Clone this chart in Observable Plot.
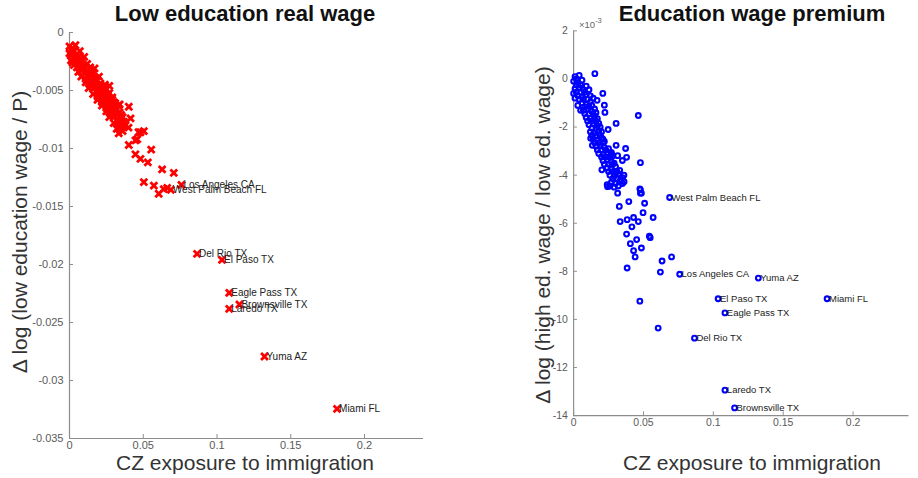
<!DOCTYPE html>
<html><head><meta charset="utf-8">
<script src="https://cdn.jsdelivr.net/npm/d3@7"></script>
<script src="https://cdn.jsdelivr.net/npm/@observablehq/plot@0.6"></script>
<style>
html,body{margin:0;padding:0;width:918px;height:478px;overflow:hidden;background:#fff;font-family:"Liberation Sans",Arial,Helvetica,sans-serif;}
#left,#right,#overlay{position:absolute;top:0;}
#left{left:0}
#right{left:500px}
#overlay{left:0;pointer-events:none}
</style></head><body>
<div id="left"></div><div id="right"></div>
<svg id="overlay" width="918" height="478"></svg>
<script>
// ---- tick labels ----
const xTicks = [0, 0.05, 0.1, 0.15, 0.2];
const lowYTicks = [0, -0.005, -0.01, -0.015, -0.02, -0.025, -0.03, -0.035];
const premYTicks = [2, 0, -2, -4, -6, -8, -10, -12, -14]; // x 10^-3

// ---- labelled commuting zones ----
const cityNames = ["Los Angeles CA","West Palm Beach FL","Del Rio TX","El Paso TX","Eagle Pass TX","Brownsville TX","Laredo TX","Yuma AZ","Miami FL"];
const cityX = [0.0759, 0.0687, 0.0865, 0.1034, 0.1083, 0.1152, 0.1083, 0.1322, 0.1814];
const cityLowY = [-0.01313, -0.01356, -0.01908, -0.0196, -0.02244, -0.02345, -0.02382, -0.02793, -0.03244];
const cityPremY = [-8.12, -4.93, -10.78, -9.14, -9.73, -13.68, -12.94, -8.28, -9.14];

// ---- low education real wage: other CZs [exposure, change] ----
const lowBand = [
[0.000,-0.0012],[0.002,-0.0014],[0.004,-0.0011],[0.001,-0.0015],
[0.000,-0.0018],[0.002,-0.0017],[0.005,-0.0019],[0.007,-0.0016],
[0.001,-0.0024],[0.004,-0.0022],[0.007,-0.0023],[0.010,-0.0021],
[0.003,-0.0028],[0.006,-0.0026],[0.009,-0.0029],[0.012,-0.0027],[0.014,-0.0030],
[0.006,-0.0034],[0.009,-0.0032],[0.012,-0.0033],[0.015,-0.0035],[0.017,-0.0031],
[0.008,-0.0038],[0.011,-0.0040],[0.014,-0.0037],[0.017,-0.0039],[0.020,-0.0038],
[0.011,-0.0043],[0.014,-0.0045],[0.018,-0.0042],[0.021,-0.0044],[0.024,-0.0045],
[0.013,-0.0048],[0.017,-0.0047],[0.020,-0.0050],[0.023,-0.0048],[0.027,-0.0046],
[0.016,-0.0053],[0.019,-0.0055],[0.022,-0.0052],[0.026,-0.0054],[0.029,-0.0056],
[0.019,-0.0058],[0.022,-0.0060],[0.025,-0.0057],[0.028,-0.0059],[0.031,-0.0061],
[0.022,-0.0063],[0.025,-0.0065],[0.028,-0.0062],[0.031,-0.0064],[0.034,-0.0062],
[0.025,-0.0068],[0.028,-0.0070],[0.031,-0.0067],[0.034,-0.0069],
[0.027,-0.0073],[0.030,-0.0072],[0.033,-0.0075],[0.036,-0.0073],
[0.030,-0.0078],[0.034,-0.0080],[0.037,-0.0077],
[0.032,-0.0083],[0.036,-0.0085],[0.040,-0.0082],
[0.001,-0.0020],[0.003,-0.0016],[0.006,-0.0021],[0.008,-0.0025],[0.002,-0.0026],
[0.005,-0.0030],[0.008,-0.0031],[0.011,-0.0030],[0.010,-0.0035],[0.013,-0.0036],
[0.016,-0.0036],[0.019,-0.0041],[0.012,-0.0041],[0.015,-0.0042],[0.016,-0.0045],
[0.019,-0.0046],[0.022,-0.0047],[0.025,-0.0049],[0.018,-0.0051],[0.021,-0.0050],
[0.024,-0.0051],[0.027,-0.0052],[0.020,-0.0056],[0.023,-0.0056],[0.026,-0.0056],
[0.029,-0.0058],[0.024,-0.0061],[0.027,-0.0061],[0.030,-0.0060],[0.033,-0.0063],
[0.026,-0.0066],[0.029,-0.0066],[0.032,-0.0066],[0.029,-0.0071],[0.032,-0.0070],
[0.035,-0.0071],[0.032,-0.0076],[0.035,-0.0076],[0.034,-0.0082],[0.038,-0.0080]
];
const lowScatter = [
[0.0402,-0.0064],[0.0414,-0.0074],[0.0368,-0.0080],[0.0334,-0.0087],[0.0504,-0.0085],
[0.0481,-0.0086],[0.0459,-0.0092],[0.0402,-0.0097],[0.0554,-0.0101],[0.0447,-0.0105],
[0.0481,-0.0109],[0.0531,-0.0112],[0.0628,-0.0118],[0.0707,-0.0121],[0.0504,-0.0129],
[0.0572,-0.0132],[0.0605,-0.0139],[0.0639,-0.0135],[0.0662,-0.0134],[0.0447,-0.0093],
[0.0468,-0.0086]
];

// ---- education wage premium (x 10^-3): other CZs ----
const premBand = [
[0.001,0.1],[0.004,0.15],[0.002,0.0],
[0.000,-0.1],[0.003,-0.15],[0.006,-0.05],
[0.001,-0.4],[0.004,-0.35],[0.007,-0.45],
[0.003,-0.7],[0.006,-0.75],[0.009,-0.65],
[0.006,-1.0],[0.009,-1.05],[0.012,-0.95],
[0.007,-1.3],[0.010,-1.25],[0.013,-1.35],
[0.009,-1.6],[0.012,-1.65],[0.015,-1.55],
[0.011,-1.9],[0.014,-1.85],[0.017,-1.95],
[0.012,-2.2],[0.015,-2.25],[0.018,-2.15],
[0.014,-2.5],[0.017,-2.55],[0.020,-2.45],
[0.016,-2.8],[0.019,-2.75],[0.022,-2.85],
[0.018,-3.1],[0.021,-3.15],[0.024,-3.05],
[0.021,-3.4],[0.024,-3.35],[0.027,-3.45],
[0.024,-3.7],[0.027,-3.75],[0.030,-3.65],
[0.026,-4.0],[0.029,-4.05],[0.032,-3.95],[0.035,-4.1],
[0.024,-4.4],[0.027,-4.3],[0.030,-4.35],[0.033,-4.25],
[0.002,-0.25],[0.005,-0.25],[0.002,-0.55],[0.005,-0.55],[0.008,-0.55],
[0.004,-0.85],[0.007,-0.85],[0.010,-0.85],[0.008,-1.15],[0.011,-1.15],
[0.008,-1.45],[0.011,-1.45],[0.014,-1.45],[0.010,-1.75],[0.013,-1.75],
[0.016,-1.75],[0.013,-2.05],[0.016,-2.05],[0.013,-2.35],[0.016,-2.35],
[0.019,-2.35],[0.015,-2.65],[0.018,-2.65],[0.021,-2.65],[0.017,-2.95],
[0.020,-2.95],[0.023,-2.95],[0.020,-3.25],[0.023,-3.25],[0.026,-3.25],
[0.022,-3.55],[0.025,-3.55],[0.028,-3.55],[0.025,-3.85],[0.028,-3.85],
[0.031,-3.85],[0.028,-4.15],[0.031,-4.15],[0.034,-4.2],[0.026,-4.45],
[0.029,-4.5],[0.032,-4.45],
[0.009,-0.3],[0.011,-0.45],[0.012,-0.7],[0.014,-0.8],[0.013,-1.1],
[0.015,-1.25],[0.016,-1.4],[0.017,-1.65],[0.018,-1.85],[0.019,-2.0],
[0.020,-2.2],[0.021,-2.5],[0.022,-2.6],[0.025,-2.9],[0.027,-3.05],
[0.028,-3.2],[0.029,-3.5],[0.030,-3.9],[0.033,-3.8],[0.035,-4.35],
[0.036,-4.0],[0.000,-0.6],[0.001,-0.8],[0.003,-1.1],[0.005,-1.3]
];
const premScatter = [
[0.0152,0.22],[0.0209,-0.60],[0.0220,-1.09],[0.0224,-1.39],[0.0304,-1.85],[0.0463,-1.52],
[0.0247,-2.10],[0.0304,-2.76],[0.0372,-2.89],[0.0379,-3.26],[0.0349,-3.39],[0.0478,-3.48],
[0.0315,-3.19],[0.0202,-3.78],[0.0361,-4.27],[0.0243,-4.48],[0.0315,-4.75],[0.0478,-4.61],
[0.0478,-4.75],[0.0474,-4.57],[0.0485,-4.75],[0.0327,-5.30],[0.0395,-5.10],[0.0508,-5.17],
[0.0497,-5.56],[0.0569,-5.76],[0.0333,-5.93],[0.0383,-5.85],[0.0429,-5.76],[0.0463,-5.93],
[0.0417,-6.15],[0.0379,-6.45],[0.0451,-6.68],[0.0406,-6.85],[0.0485,-7.03],[0.0429,-7.14],
[0.0440,-7.40],[0.0542,-6.54],[0.0548,-6.60],[0.0633,-7.57],[0.0701,-7.40],[0.0383,-7.86],
[0.0621,-8.03],[0.0474,-9.24],[0.0605,-10.36],[0.0122,-2.47],[0.0134,-2.76],[0.0168,-0.89],
[0.0270,-3.13]
];

const FONT = "Liberation Sans, Arial, Helvetica, sans-serif";
const axisColor = "#8c8c8c";
const fmt = d => String(d);

function panel(o) {
  const cities = cityNames.map((name, i) => ({name, x: cityX[i], y: o.cityY[i]}));
  const pts = o.band.concat(o.scatter);
  const dotOpts = o.kind === "x"
    ? {symbol: "times", r: 3.2, stroke: "#ff0000", strokeWidth: 2.8}
    : {r: 2.5, stroke: "#0000ff", strokeWidth: 2.2, fill: "none"};
  return Plot.plot({
    width: o.width, height: 478,
    marginLeft: o.ml, marginRight: o.mr, marginTop: o.mt, marginBottom: o.mb,
    style: {fontFamily: FONT, background: "transparent", overflow: "visible"},
    x: {domain: [0, 0.24], label: null},
    y: {domain: o.yDomain, label: null},
    marks: [
      Plot.ruleX([0], {stroke: axisColor, strokeWidth: 1.2}),
      Plot.ruleY([o.yDomain[0]], {stroke: axisColor, strokeWidth: 1.2}),
      Plot.axisX(xTicks, {tickSize: -4, tickPadding: 7, tickFormat: fmt, color: "#5a5a5a", fontSize: 11, stroke: axisColor, label: null}),
      Plot.axisY(o.yTicks, {tickSize: -4, tickPadding: 10, tickFormat: fmt, color: "#5a5a5a", fontSize: 11, stroke: axisColor, label: null}),
      Plot.dot(pts, {x: d => d[0], y: d => d[1], ...dotOpts}),
      Plot.dot(cities, {x: "x", y: "y", ...dotOpts}),
      Plot.text(cities, {x: "x", y: "y", text: "name", textAnchor: "start", dx: 2, fontSize: 10, fill: "#222"})
    ]
  });
}

document.getElementById("left").append(panel({
  band: lowBand, scatter: lowScatter, cityY: cityLowY, yTicks: lowYTicks, yDomain: [-0.035, 0],
  width: 460, ml: 69, mr: 37, mt: 32, mb: 40, kind: "x"
}));
document.getElementById("right").append(panel({
  band: premBand, scatter: premScatter, cityY: cityPremY, yTicks: premYTicks, yDomain: [-14, 2],
  width: 440, ml: 77, mr: 10, mt: 32, mb: 41, kind: "o"
}));

// ---- titles and axis labels ----
const ov = d3.select("#overlay").style("font-family", FONT);
const titles = [
  {t: "Low education real wage", x: 245, y: 21},
  {t: "Education wage premium", x: 752, y: 21}
];
titles.forEach(d => ov.append("text").attr("x", d.x).attr("y", d.y).attr("text-anchor", "middle")
  .attr("font-size", 22).attr("font-weight", "bold").attr("fill", "#111").text(d.t));
const xLabels = [{x: 245}, {x: 752}];
xLabels.forEach(d => ov.append("text").attr("x", d.x).attr("y", 470).attr("text-anchor", "middle")
  .attr("font-size", 21).attr("fill", "#333").text("CZ exposure to immigration"));
const yLabels = [
  {t: "\u0394 log (low education wage / P)", x: 27, y: 232},
  {t: "\u0394 log (high ed. wage / low ed. wage)", x: 550, y: 235}
];
yLabels.forEach(d => ov.append("text").attr("transform", `translate(${d.x},${d.y}) rotate(-90)`)
  .attr("text-anchor", "middle").attr("font-size", 21).attr("fill", "#333").text(d.t));
const exp = ov.append("text").attr("x", 579).attr("y", 28).attr("font-size", 9.5).attr("fill", "#666");
exp.append("tspan").text("\u00d710");
exp.append("tspan").attr("dy", -5).attr("font-size", 7.5).text("-3");
</script>
</body></html>
